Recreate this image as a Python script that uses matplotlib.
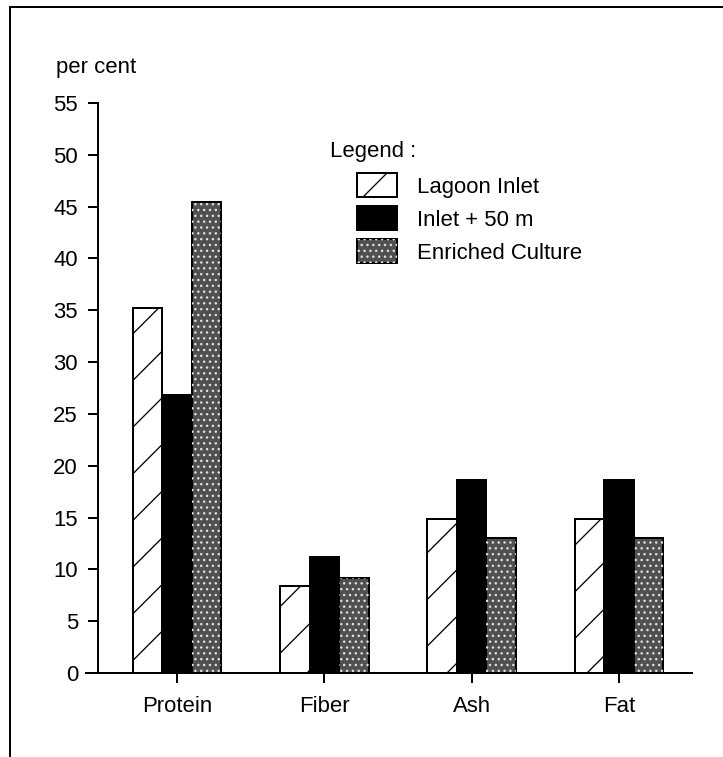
import matplotlib
matplotlib.use("Agg")
import matplotlib.pyplot as plt
from matplotlib.lines import Line2D
import numpy as np

categories = ["Protein", "Fiber", "Ash", "Fat"]
series_names = ["Lagoon Inlet", "Inlet + 50 m", "Enriched Culture"]
lagoon_inlet = [35.2, 8.4, 14.9, 14.9]
inlet_50m = [26.8, 11.2, 18.6, 18.6]
enriched_culture = [45.4, 9.2, 13.0, 13.0]
yticks = [0, 5, 10, 15, 20, 25, 30, 35, 40, 45, 50, 55]

DPI = 140
def pt(px):
    return px * 72.0 / DPI

plt.rcParams['font.family'] = ['Liberation Sans', 'DejaVu Sans']
plt.rcParams['hatch.linewidth'] = pt(1.3)

W, H = 723, 757
fig = plt.figure(figsize=(W / DPI, H / DPI), dpi=DPI)

ax_left, ax_right, ax_bottom, ax_top = 86, 692, 673, 103
ax = fig.add_axes([ax_left / W, 1 - ax_bottom / H, (ax_right - ax_left) / W, (ax_bottom - ax_top) / H])

x = np.arange(len(categories))
bw = 0.2
fs = pt(22.2)
lw = pt(2)

ax.spines['left'].set_position(('data', -0.536))

b1 = ax.bar(x - bw, lagoon_inlet, bw, facecolor='white', edgecolor='black', linewidth=lw,
            hatch='/', zorder=2)
b2 = ax.bar(x, inlet_50m, bw, facecolor='black', edgecolor='black', linewidth=lw, zorder=2)
b3 = ax.bar(x + bw, enriched_culture, bw, facecolor='#505050', edgecolor='black', linewidth=lw, zorder=2)
b3o = ax.bar(x + bw, enriched_culture, bw, facecolor='none', edgecolor='#e0e0e0', linewidth=0,
             hatch='....', zorder=3)

ax.set_xlim(-0.618, 3.496)
ax.set_ylim(0, 55)
ax.set_yticks(yticks)
ax.set_yticklabels([str(v) for v in yticks])
ax.set_xticks(x)
ax.set_xticklabels(categories)

for s in ['top', 'right']:
    ax.spines[s].set_visible(False)
ax.spines['left'].set_linewidth(lw)
ax.spines['bottom'].set_linewidth(lw)
ax.tick_params(axis='y', direction='out', length=pt(10), width=lw, pad=pt(10), labelsize=fs)
ax.tick_params(axis='x', direction='out', length=pt(10), width=lw, pad=pt(13), labelsize=fs)

fig.text(56 / W, 1 - 73 / H, "per cent", fontsize=fs, ha='left', va='baseline')

fig.text(330 / W, 1 - 152 / H, "Legend :", fontsize=fs, ha='left', va='center')
leg = ax.legend([b1, b2, (b3, b3o)], series_names, loc='upper left',
                bbox_to_anchor=(357 / W, 1 - 173 / H), bbox_transform=fig.transFigure,
                frameon=False, fontsize=fs, handlelength=40 / 22.2, handleheight=29 / 22.2,
                handletextpad=20 / 22.2, labelspacing=8.5 / 22.2, borderaxespad=0, borderpad=0)

fig.add_artist(Line2D([10 / W, 10 / W], [0, 1 - 7 / H], color='black', linewidth=lw,
                      transform=fig.transFigure))
fig.add_artist(Line2D([10 / W, 1], [1 - 7 / H, 1 - 7 / H], color='black', linewidth=lw,
                      transform=fig.transFigure))

fig.savefig("out.png", dpi=DPI)
